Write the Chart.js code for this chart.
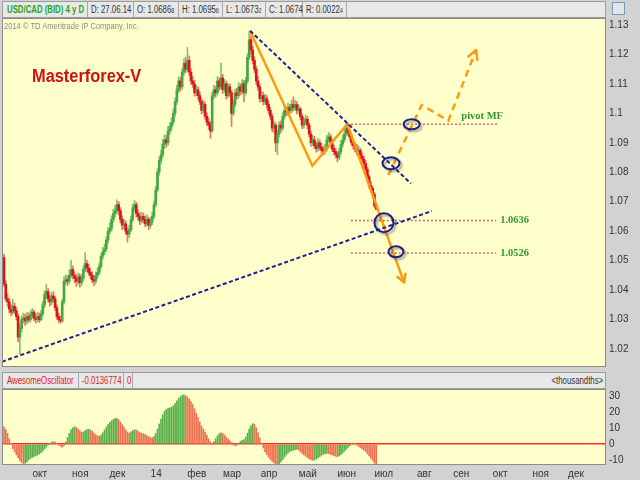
<!DOCTYPE html>
<html><head><meta charset="utf-8">
<script src="https://cdn.jsdelivr.net/npm/chart.js@4/dist/chart.umd.min.js"></script>
<style>
html,body{margin:0;padding:0;}
body{width:640px;height:480px;background:#d2d2d2;position:relative;overflow:hidden;font-family:'Liberation Sans',Arial,sans-serif;}
.hbar{position:absolute;left:2px;width:604px;height:17px;background:#e8e8e8;border:1px solid #9c9c9c;box-sizing:border-box;}
.cell{position:absolute;top:0;height:15px;border-right:1px solid #a8a8a8;font:10px 'Liberation Sans',Arial,sans-serif;line-height:15px;color:#333;white-space:nowrap;padding-left:3px;box-sizing:border-box;overflow:visible;}
.cell span.t{display:inline-block;transform:scaleX(0.78);transform-origin:0 50%;}
.sm{font-size:7px;}
#cv1{position:absolute;left:0;top:18px;}
#cv2{position:absolute;left:0;top:389px;}
.txt{position:absolute;white-space:nowrap;}
</style></head>
<body>
<div class="hbar" style="top:1px;">
  <div class="cell" style="left:1px;width:84px;color:#1fa51f;font-weight:bold;"><span class="t">USD/CAD (BID) 4 y D</span></div>
  <div class="cell" style="left:85px;width:46px;"><span class="t">D: 27.06.14</span></div>
  <div class="cell" style="left:131px;width:45px;"><span class="t">O: 1.0686<span class="sm">8</span></span></div>
  <div class="cell" style="left:176px;width:44px;"><span class="t">H: 1.0695<span class="sm">6</span></span></div>
  <div class="cell" style="left:220px;width:43px;"><span class="t">L: 1.0673<span class="sm">2</span></span></div>
  <div class="cell" style="left:263px;width:37px;"><span class="t">C: 1.0674</span></div>
  <div class="cell" style="left:300px;width:44px;"><span class="t">R: 0.0022<span class="sm">4</span></span></div>
</div>
<div style="position:absolute;left:612px;top:2px;width:13px;height:13px;border:1px solid #7b98b8;background:#dfe6ee;box-sizing:border-box;"></div>
<div class="hbar" style="top:372px;">
  <div class="cell" style="left:1px;width:75px;color:#e02020;"><span class="t">AwesomeOscillator</span></div>
  <div class="cell" style="left:76px;width:45px;color:#e02020;"><span class="t">-0.0136774</span></div>
  <div class="cell" style="left:121px;width:9px;color:#e02020;"><span class="t">0</span></div>
</div>
<div class="txt" style="right:37px;top:373px;font:10px 'Liberation Sans',Arial,sans-serif;line-height:15px;color:#333;transform:scaleX(0.78);transform-origin:100% 0;">&lt;thousandths&gt;</div>
<canvas id="cv1" width="640" height="349"></canvas>
<canvas id="cv2" width="640" height="91"></canvas>
<div class="txt" style="left:4px;top:21px;font:9px 'Liberation Sans',Arial,sans-serif;color:#8c8c8c;transform:scaleX(0.84);transform-origin:0 0;">2014 © TD Ameritrade IP Company, Inc.</div>
<div class="txt" style="left:32px;top:66px;font:bold 18px 'Liberation Sans',Arial,sans-serif;color:#cc1212;transform:scaleX(0.91);transform-origin:0 0;">Masterforex-V</div>
<script>
// ---------- DATA ----------
const opens = [1.0510,1.0420,1.0370,1.0360,1.0335,1.0325,1.0345,1.0330,1.0310,1.0240,1.0270,1.0300,1.0305,1.0295,1.0310,1.0300,1.0315,1.0325,1.0305,1.0300,
1.0310,1.0300,1.0320,1.0350,1.0385,1.0395,1.0370,1.0360,1.0380,1.0370,1.0340,1.0310,1.0300,1.0295,1.0360,1.0430,1.0435,1.0430,1.0450,1.0470,
1.0450,1.0440,1.0430,1.0445,1.0425,1.0440,1.0470,1.0490,1.0475,1.0460,1.0450,1.0435,1.0430,1.0450,1.0460,1.0480,1.0515,1.0530,1.0540,1.0570,
1.0600,1.0610,1.0640,1.0660,1.0670,1.0690,1.0670,1.0640,1.0620,1.0625,1.0600,1.0590,1.0605,1.0640,1.0680,1.0690,1.0660,1.0650,1.0635,1.0650,
1.0640,1.0625,1.0640,1.0620,1.0630,1.0650,1.0690,1.0740,1.0800,1.0840,1.0860,1.0895,1.0910,1.0900,1.0940,1.0955,1.0970,1.1000,1.1040,1.1080,
1.1110,1.1090,1.1140,1.1170,1.1150,1.1180,1.1140,1.1110,1.1100,1.1070,1.1080,1.1060,1.1040,1.1010,1.1030,1.0990,1.0970,1.0960,1.0940,1.1060,
1.1080,1.1070,1.1110,1.1090,1.1120,1.1080,1.1100,1.1060,1.1090,1.1070,1.1000,1.1030,1.1070,1.1060,1.1090,1.1075,1.1100,1.1070,1.1110,1.1190,
1.1250,1.1215,1.1180,1.1150,1.1110,1.1090,1.1050,1.1060,1.1040,1.1050,1.1030,1.1010,1.0990,1.0950,1.0960,1.0900,1.0930,1.0960,1.0950,1.0990,
1.1010,1.1005,1.1020,1.1010,1.1030,1.1020,1.1030,1.1010,1.1015,1.0990,1.0960,1.0970,1.0980,1.0960,1.0930,1.0900,1.0910,1.0890,1.0880,1.0900,
1.0885,1.0875,1.0870,1.0880,1.0910,1.0920,1.0905,1.0880,1.0870,1.0860,1.0850,1.0870,1.0895,1.0910,1.0930,1.0950,1.0935,1.0920,1.0900,1.0890,
1.0880,1.0870,1.0875,1.0855,1.0845,1.0830,1.0810,1.0785,1.0755,1.0745,1.0725,1.06868];
const highs = [1.0522,1.0432,1.0388,1.0372,1.0350,1.0368,1.0356,1.0342,1.0318,1.0282,1.0312,1.0322,1.0318,1.0324,1.0322,1.0330,1.0338,1.0332,1.0318,1.0325,
1.0322,1.0330,1.0362,1.0398,1.0420,1.0405,1.0385,1.0392,1.0395,1.0378,1.0350,1.0322,1.0312,1.0368,1.0445,1.0452,1.0448,1.0468,1.0502,1.0482,
1.0462,1.0452,1.0458,1.0455,1.0452,1.0482,1.0526,1.0502,1.0488,1.0472,1.0462,1.0448,1.0462,1.0475,1.0492,1.0525,1.0545,1.0556,1.0582,1.0612,
1.0628,1.0652,1.0675,1.0688,1.0706,1.0700,1.0680,1.0652,1.0640,1.0635,1.0612,1.0620,1.0652,1.0692,1.0705,1.0698,1.0672,1.0662,1.0665,1.0662,
1.0652,1.0655,1.0648,1.0645,1.0665,1.0702,1.0752,1.0812,1.0852,1.0875,1.0912,1.0928,1.0925,1.0955,1.0968,1.0985,1.1015,1.1052,1.1095,1.1125,
1.1122,1.1152,1.1185,1.1190,1.1224,1.1195,1.1152,1.1125,1.1112,1.1095,1.1090,1.1072,1.1050,1.1045,1.1038,1.1002,1.0985,1.0972,1.1072,1.1095,
1.1092,1.1125,1.1120,1.1171,1.1132,1.1115,1.1110,1.1102,1.1100,1.1078,1.1045,1.1082,1.1085,1.1105,1.1100,1.1115,1.1112,1.1122,1.1202,1.1278,
1.1262,1.1228,1.1192,1.1160,1.1125,1.1100,1.1075,1.1072,1.1065,1.1060,1.1042,1.1020,1.0998,1.0975,1.0968,1.0942,1.0972,1.0975,1.1002,1.1025,
1.1022,1.1035,1.1030,1.1045,1.1056,1.1045,1.1040,1.1030,1.1022,1.0998,1.0985,1.0995,1.0990,1.0968,1.0940,1.0925,1.0922,1.0902,1.0915,1.0910,
1.0898,1.0888,1.0895,1.0925,1.0935,1.0930,1.0912,1.0892,1.0882,1.0870,1.0882,1.0908,1.0925,1.0945,1.0971,1.0960,1.0945,1.0930,1.0912,1.0902,
1.0895,1.0890,1.0882,1.0866,1.0855,1.0840,1.0818,1.0792,1.0768,1.0752,1.0732,1.06956];
const lows = [1.0412,1.0362,1.0345,1.0322,1.0312,1.0318,1.0320,1.0298,1.0225,1.0182,1.0258,1.0288,1.0280,1.0285,1.0290,1.0292,1.0305,1.0295,1.0288,1.0292,
1.0290,1.0295,1.0312,1.0340,1.0372,1.0360,1.0345,1.0350,1.0358,1.0330,1.0300,1.0290,1.0287,1.0290,1.0352,1.0418,1.0415,1.0422,1.0442,1.0438,
1.0425,1.0412,1.0420,1.0410,1.0416,1.0432,1.0462,1.0462,1.0450,1.0438,1.0425,1.0415,1.0422,1.0440,1.0452,1.0472,1.0505,1.0520,1.0532,1.0560,
1.0590,1.0600,1.0630,1.0648,1.0660,1.0655,1.0628,1.0605,1.0608,1.0588,1.0563,1.0578,1.0598,1.0632,1.0668,1.0648,1.0638,1.0622,1.0628,1.0628,
1.0615,1.0618,1.0605,1.0610,1.0622,1.0642,1.0682,1.0732,1.0790,1.0828,1.0850,1.0880,1.0885,1.0892,1.0928,1.0942,1.0962,1.0990,1.1030,1.1070,
1.1075,1.1082,1.1130,1.1138,1.1142,1.1128,1.1098,1.1088,1.1058,1.1060,1.1048,1.1030,1.0998,1.1002,1.0980,1.0958,1.0945,1.0916,1.0935,1.1050,
1.1055,1.1062,1.1078,1.1082,1.1068,1.1070,1.1048,1.1052,1.1058,1.0955,1.0992,1.1022,1.1048,1.1052,1.1062,1.1065,1.1040,1.1062,1.1102,1.1182,
1.1202,1.1168,1.1138,1.1098,1.1078,1.1038,1.1040,1.1028,1.1030,1.1018,1.0998,1.0978,1.0938,1.0935,1.0870,1.0859,1.0920,1.0935,1.0942,1.0980,
1.0992,1.0995,1.0998,1.1002,1.1008,1.1012,1.0998,1.1000,1.0978,1.0948,1.0950,1.0962,1.0948,1.0920,1.0888,1.0890,1.0880,1.0868,1.0872,1.0875,
1.0865,1.0858,1.0862,1.0872,1.0900,1.0895,1.0870,1.0858,1.0848,1.0835,1.0842,1.0862,1.0885,1.0902,1.0922,1.0925,1.0908,1.0890,1.0878,1.0868,
1.0858,1.0860,1.0845,1.0835,1.0818,1.0798,1.0775,1.0745,1.0732,1.0712,1.0680,1.06732];
const closes = [1.0420,1.0370,1.0360,1.0335,1.0325,1.0345,1.0330,1.0310,1.0240,1.0270,1.0300,1.0305,1.0295,1.0310,1.0300,1.0315,1.0325,1.0305,1.0300,1.0310,
1.0300,1.0320,1.0350,1.0385,1.0395,1.0370,1.0360,1.0380,1.0370,1.0340,1.0310,1.0300,1.0295,1.0360,1.0430,1.0435,1.0430,1.0450,1.0470,1.0450,
1.0440,1.0430,1.0445,1.0425,1.0440,1.0470,1.0490,1.0475,1.0460,1.0450,1.0435,1.0430,1.0450,1.0460,1.0480,1.0515,1.0530,1.0540,1.0570,1.0600,
1.0610,1.0640,1.0660,1.0670,1.0690,1.0670,1.0640,1.0620,1.0625,1.0600,1.0590,1.0605,1.0640,1.0680,1.0690,1.0660,1.0650,1.0635,1.0650,1.0640,
1.0625,1.0640,1.0620,1.0630,1.0650,1.0690,1.0740,1.0800,1.0840,1.0860,1.0895,1.0910,1.0900,1.0940,1.0955,1.0970,1.1000,1.1040,1.1080,1.1110,
1.1090,1.1140,1.1170,1.1150,1.1180,1.1140,1.1110,1.1100,1.1070,1.1080,1.1060,1.1040,1.1010,1.1030,1.0990,1.0970,1.0960,1.0940,1.1060,1.1080,
1.1070,1.1110,1.1090,1.1120,1.1080,1.1100,1.1060,1.1090,1.1070,1.1000,1.1030,1.1070,1.1060,1.1090,1.1075,1.1100,1.1070,1.1110,1.1190,1.1250,
1.1215,1.1180,1.1150,1.1110,1.1090,1.1050,1.1060,1.1040,1.1050,1.1030,1.1010,1.0990,1.0950,1.0960,1.0900,1.0930,1.0960,1.0950,1.0990,1.1010,
1.1005,1.1020,1.1010,1.1030,1.1020,1.1030,1.1010,1.1015,1.0990,1.0960,1.0970,1.0980,1.0960,1.0930,1.0900,1.0910,1.0890,1.0880,1.0900,1.0885,
1.0875,1.0870,1.0880,1.0910,1.0920,1.0905,1.0880,1.0870,1.0860,1.0850,1.0870,1.0895,1.0910,1.0930,1.0950,1.0935,1.0920,1.0900,1.0890,1.0880,
1.0870,1.0875,1.0855,1.0845,1.0830,1.0810,1.0785,1.0755,1.0745,1.0725,1.0687,1.0674];
// Awesome Oscillator, thousandths
const aoValues = [11.0,9.2,6.8,3.5,0.2,-2.8,-5.0,-6.8,-8.6,-10.4,-11.6,-12.3,-12.0,-11.2,-10.0,-9.1,-8.4,-7.9,-7.2,-6.9,
-6.2,-5.4,-4.3,-3.0,-1.8,-0.6,0.6,1.3,1.6,1.4,0.6,-0.6,-1.4,-1.9,-1.0,1.5,4.2,6.8,9.0,10.4,
11.0,10.6,9.6,8.5,7.4,7.8,8.6,9.2,9.4,9.0,8.2,7.0,6.0,5.3,5.1,5.8,7.2,9.0,10.8,12.4,
13.8,14.9,15.6,16.2,16.4,15.5,14.0,12.4,10.8,9.0,7.6,7.0,7.8,8.6,9.2,9.0,8.2,7.4,6.9,6.6,
6.0,5.4,4.8,4.2,4.0,4.8,6.8,9.6,12.8,15.8,18.6,20.8,22.0,22.6,23.0,23.4,24.2,25.6,27.4,29.0,
30.0,30.8,31.2,30.6,29.8,28.6,27.0,25.0,22.4,19.6,16.8,14.0,11.6,9.6,7.6,5.6,3.4,1.4,0.2,1.6,
3.6,5.4,6.6,7.2,6.8,5.8,4.4,3.2,2.2,1.0,-0.4,-1.0,-0.6,0.6,1.8,2.4,2.8,4.4,7.0,9.6,
11.8,13.0,12.6,10.4,7.4,4.0,0.6,-2.4,-4.8,-6.6,-8.2,-9.6,-10.8,-11.8,-12.6,-13.2,-12.4,-11.2,-9.8,-8.2,
-6.8,-5.6,-4.6,-4.2,-3.8,-3.4,-3.2,-3.6,-4.6,-5.8,-6.8,-7.6,-8.4,-9.2,-9.8,-10.2,-10.0,-9.4,-8.6,-7.8,
-7.0,-6.4,-6.0,-5.8,-6.0,-6.4,-6.8,-7.2,-7.6,-8.0,-7.4,-6.6,-5.6,-4.4,-3.2,-2.0,-1.0,0.2,0.8,0.4,
-0.6,-1.4,-2.2,-3.0,-3.8,-4.8,-6.0,-7.4,-8.8,-10.4,-12.0,-13.6774];
const firstBarDate = '2013-09-05';
const monthStarts = ['2013-10-01','2013-11-01','2013-12-01','2014-01-01','2014-02-01','2014-03-01','2014-04-01','2014-05-01','2014-06-01','2014-07-01','2014-08-01','2014-09-01','2014-10-01','2014-11-01','2014-12-01'];
const monthLabels = ['окт','ноя','дек','14','фев','мар','апр','май','июн','июл','авг','сен','окт','ноя','дек'];
const priceTicks = [1.02,1.03,1.04,1.05,1.06,1.07,1.08,1.09,1.10,1.11,1.12,1.13];
const aoTicks = [-10,0,10,20,30];
// annotation points: [bar index, price]
const supportLine = [[-1.13,1.01567],[242.6,1.06684]];
const resistLine = [[139.5,1.12806],[230.7,1.07618]];
const waveSolid = [[139.5,1.12796],[174.8,1.08222],[194.6,1.09628],[226.8,1.04250]];
const waveDashed = [[217.9,1.07907],[236.8,1.10284],[251.9,1.09750],[267.6,1.12151]];
const levelPrices = [1.0963,1.0636,1.0526];
const levelNames = ['pivot MF','1.0636','1.0526'];
const levelFrom = [194.6,196.8,196.8];
const levelTo = [279.5,279.0,279.0];
const circlePts = [[231.1,1.0963],[219.4,1.08304],[215.4,1.06287],[222.2,1.0530]];

// ---------- helpers ----------
function tradingIndex(dateStr){
  const t = new Date(firstBarDate+'T00:00:00Z'); const end = new Date(dateStr+'T00:00:00Z');
  let n=0; while(t<end){const d=t.getUTCDay(); if(d!==0&&d!==6) n++; t.setUTCDate(t.getUTCDate()+1);} return n;
}
const monthIdx = monthStarts.map(tradingIndex);
const X_MIN=-1.134, X_MAX=341.27;
const FONT="'Liberation Sans',Arial,sans-serif";
Chart.defaults.font.family=FONT;
Chart.defaults.animation=false;
const noPad = s => { s.paddingTop=0; s.paddingBottom=0; s.paddingLeft=0; s.paddingRight=0; };

const UP_BODY='#43a843', DN_BODY='#dd1414', UP_WICK='#7dc46d', DN_WICK='#ee7070';
const isUp = i => closes[i]>=opens[i];
const wickData = closes.map((c,i)=>({x:i,y:[lows[i],highs[i]]}));
const bodyData = closes.map((c,i)=>({x:i,y:[Math.min(opens[i],c),Math.max(opens[i],c)]}));
const toPts = arr => arr.map(p=>({x:p[0],y:p[1]}));
const lineDs = (pts,color,width,dash)=>({type:'line',data:toPts(pts),borderColor:color,borderWidth:width,borderDash:dash,pointRadius:0,fill:false,tension:0,order:1,borderCapStyle:'butt'});

const plotBg = {id:'plotBg',
  beforeDraw(chart){const a=chart.chartArea,ctx=chart.ctx;ctx.save();ctx.fillStyle='#ffffcc';ctx.fillRect(a.left,a.top,a.right-a.left,a.bottom-a.top);ctx.restore();},
  afterDraw(chart){const a=chart.chartArea,ctx=chart.ctx;ctx.save();ctx.strokeStyle='#8c8c8c';ctx.lineWidth=1;ctx.strokeRect(a.left+0.5,a.top+0.5,a.right-a.left-1,a.bottom-a.top-1);ctx.restore();}
};
function arrowHead(ctx,x0,y0,x1,y1,len,color,width){
  const a=Math.atan2(y1-y0,x1-x0);ctx.save();ctx.strokeStyle=color;ctx.lineWidth=width;ctx.setLineDash([]);ctx.lineCap='round';ctx.lineJoin='round';
  ctx.beginPath();ctx.moveTo(x1-len*Math.cos(a-0.5),y1-len*Math.sin(a-0.5));ctx.lineTo(x1,y1);ctx.lineTo(x1-len*Math.cos(a+0.5),y1-len*Math.sin(a+0.5));ctx.stroke();ctx.restore();
}
const CIRCLE_R=[[8,5],[8.5,6],[9.5,9.5],[7.5,5.5]];
const marks = {id:'marks',
  afterDatasetsDraw(chart){
    const ctx=chart.ctx,xs=chart.scales.x,ys=chart.scales.y,a=chart.chartArea;
    const P=p=>[xs.getPixelForValue(p[0]),ys.getPixelForValue(p[1])];
    ctx.save();ctx.beginPath();ctx.rect(a.left,a.top,a.right-a.left,a.bottom-a.top);ctx.clip();
    let s=waveSolid.length; let p0=P(waveSolid[s-2]),p1=P(waveSolid[s-1]);
    arrowHead(ctx,p0[0],p0[1],p1[0],p1[1],9,'#ff9a10',2.5);
    s=waveDashed.length; p0=P(waveDashed[s-2]);p1=P(waveDashed[s-1]);
    arrowHead(ctx,p0[0],p0[1],p1[0],p1[1],10,'#ff9a10',2.5);
    circlePts.forEach((c,k)=>{const q=P(c);ctx.save();ctx.shadowColor='rgba(60,60,60,0.45)';ctx.shadowOffsetX=2;ctx.shadowOffsetY=2;ctx.shadowBlur=2;
      ctx.strokeStyle='#1c1c8a';ctx.lineWidth=2;ctx.beginPath();ctx.ellipse(q[0],q[1],CIRCLE_R[k][0],CIRCLE_R[k][1],0,0,Math.PI*2);ctx.stroke();ctx.restore();});
    ctx.fillStyle='#2f9a2f';ctx.font="bold 10.5px 'Liberation Serif','Times New Roman',serif";ctx.textBaseline='middle';ctx.textAlign='left';
    levelNames.forEach((t,k)=>{const y=ys.getPixelForValue(levelPrices[k]);
      if(k===0){ctx.textAlign='right';ctx.fillText(t,xs.getPixelForValue(levelTo[k])+6,y-8);ctx.textAlign='left';}
      else ctx.fillText(t,xs.getPixelForValue(levelTo[k])+4,y);});
    ctx.restore();
  }
};

const mainDatasets=[
  {type:'bar',data:wickData,backgroundColor:closes.map((c,i)=>isUp(i)?UP_WICK:DN_WICK),barThickness:1,grouped:false,order:6,borderWidth:0},
  {type:'bar',data:bodyData,backgroundColor:closes.map((c,i)=>isUp(i)?UP_BODY:DN_BODY),barThickness:2,grouped:false,order:5,borderWidth:0,minBarLength:1},
  lineDs(supportLine,'#1f1f95',2,[4,2.5]),
  lineDs(resistLine,'#1f1f95',2,[4,2.5]),
];
levelPrices.forEach((p,k)=>mainDatasets.push(lineDs([[levelFrom[k],p],[levelTo[k],p]],'#e23a3a',1.5,[1.5,2.5])));
mainDatasets.push(lineDs(waveSolid,'#ff9a10',2.5,[]));
mainDatasets.push(lineDs(waveDashed,'#ff9a10',2.5,[7,5]));

new Chart(document.getElementById('cv1'),{
  type:'bar',
  data:{datasets:mainDatasets},
  options:{responsive:false,devicePixelRatio:1,animation:false,
    layout:{padding:{left:2,right:0,top:0,bottom:0}},
    plugins:{legend:{display:false},tooltip:{enabled:false}},
    scales:{
      x:{type:'linear',min:X_MIN,max:X_MAX,display:false,offset:false,afterFit:noPad},
      y:{position:'right',min:1.01387,max:1.132377,grid:{display:false,drawTicks:false},border:{display:false},
        afterFit(s){s.width=34;noPad(s);},
        afterBuildTicks(s){s.ticks=priceTicks.map(v=>({value:v}));},
        ticks:{color:'#333',font:{size:10},padding:3,callback:v=>String(Number(v.toFixed(2)))}}
    }},
  plugins:[plotBg,marks]
});

const UP_AO='#5cb04c', DN_AO='#ec7252';
new Chart(document.getElementById('cv2'),{
  type:'bar',
  data:{datasets:[{data:aoValues.map((v,i)=>({x:i,y:v})),backgroundColor:aoValues.map((v,i)=>(i>0&&v>aoValues[i-1])?UP_AO:DN_AO),barThickness:1,borderWidth:0,grouped:false}]},
  options:{responsive:false,devicePixelRatio:1,animation:false,
    layout:{padding:{left:2,right:0,top:0,bottom:0}},
    plugins:{legend:{display:false},tooltip:{enabled:false}},
    scales:{
      x:{type:'linear',min:X_MIN,max:X_MAX,offset:false,grid:{display:false,drawTicks:false},border:{display:false},
        afterFit(s){s.height=15;noPad(s);},
        afterBuildTicks(s){s.ticks=monthIdx.map(v=>({value:v}));},
        ticks:{color:'#333',font:{size:10},padding:3,maxRotation:0,autoSkip:false,labelOffset:4,
          callback:(v)=>{const k=monthIdx.indexOf(v);return k>=0?monthLabels[k]:'';}}},
      y:{position:'right',min:-13.14,max:34.87,border:{display:false},
        grid:{drawTicks:false,color:c=>c.tick&&c.tick.value===0?'#ff2a2a':'rgba(0,0,0,0)',lineWidth:1.5},
        afterFit(s){s.width=34;noPad(s);},
        afterBuildTicks(s){s.ticks=aoTicks.map(v=>({value:v}));},
        ticks:{color:'#333',font:{size:10},padding:3}}
    }},
  plugins:[plotBg]
});
</script>
</body></html>
